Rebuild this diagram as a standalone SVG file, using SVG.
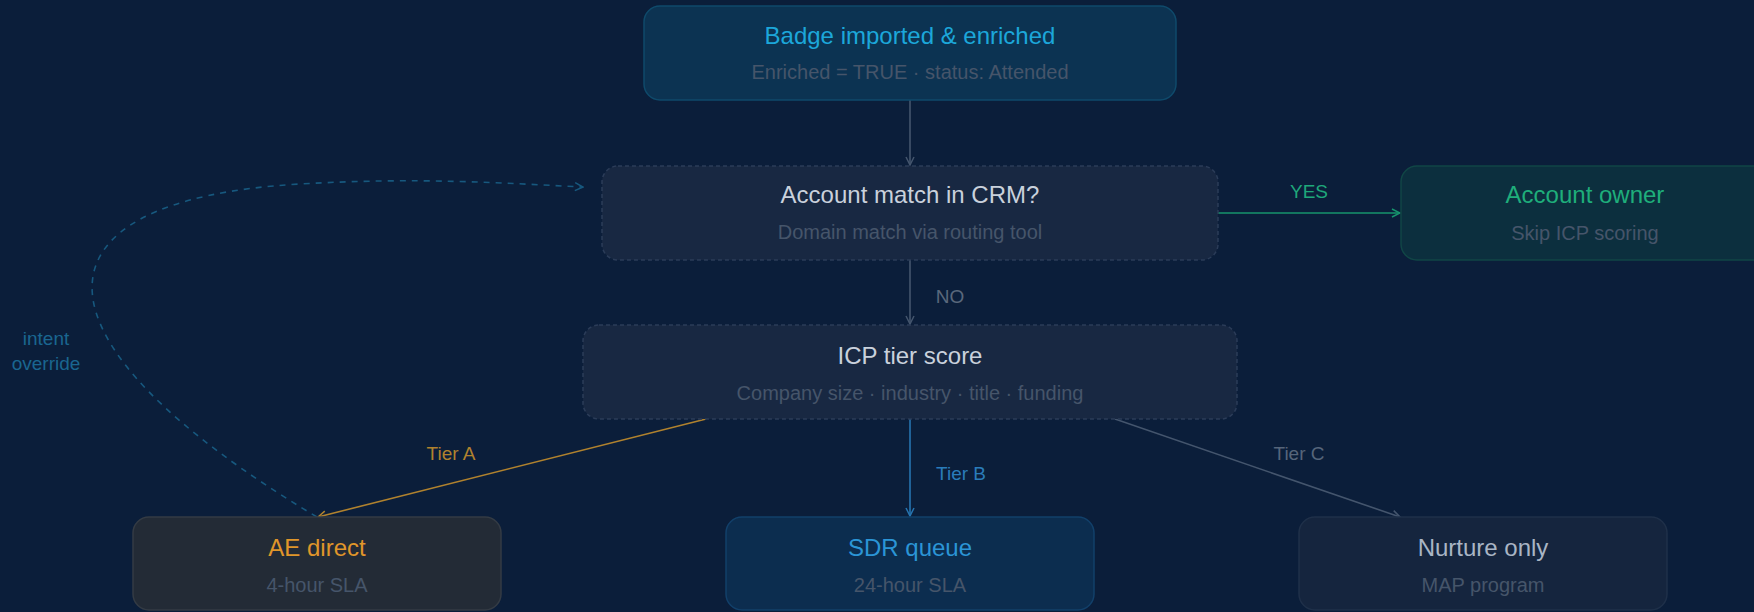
<svg xmlns="http://www.w3.org/2000/svg" width="1754" height="612" viewBox="0 0 1754 612">
<defs>
<style>
.t{font-family:"Liberation Sans",Arial,sans-serif;font-size:24px;text-anchor:middle}
.s{font-family:"Liberation Sans",Arial,sans-serif;font-size:20px;text-anchor:middle;fill:#46556a}
.l{font-family:"Liberation Sans",Arial,sans-serif;font-size:19px;text-anchor:middle}
.c{fill:none;stroke-width:1.6}
</style>
<marker id="aG" viewBox="0 0 10 10" refX="9" refY="5" markerWidth="10" markerHeight="10" markerUnits="userSpaceOnUse" orient="auto"><path d="M1,1 L9,5 L1,9" fill="none" stroke="#44556d" stroke-width="1.5"/></marker>
<marker id="aY" viewBox="0 0 10 10" refX="9" refY="5" markerWidth="10" markerHeight="10" markerUnits="userSpaceOnUse" orient="auto"><path d="M1,1 L9,5 L1,9" fill="none" stroke="#17946d" stroke-width="1.5"/></marker>
<marker id="aA" viewBox="0 0 10 10" refX="9" refY="5" markerWidth="10" markerHeight="10" markerUnits="userSpaceOnUse" orient="auto"><path d="M1,1 L9,5 L1,9" fill="none" stroke="#b0822e" stroke-width="1.5"/></marker>
<marker id="aB" viewBox="0 0 10 10" refX="9" refY="5" markerWidth="10" markerHeight="10" markerUnits="userSpaceOnUse" orient="auto"><path d="M1,1 L9,5 L1,9" fill="none" stroke="#2674b0" stroke-width="1.5"/></marker>
<marker id="aD" viewBox="0 0 10 10" refX="9" refY="5" markerWidth="10" markerHeight="10" markerUnits="userSpaceOnUse" orient="auto"><path d="M1,1 L9,5 L1,9" fill="none" stroke="#17587e" stroke-width="1.5"/></marker>
</defs>
<rect width="1754" height="612" fill="#0b1e3a"/>

<g id="connectors">
<path class="c" d="M910 100 V165" stroke="#44556d" marker-end="url(#aG)"/>
<path class="c" d="M1218 213 H1400" stroke="#17946d" marker-end="url(#aY)"/>
<text class="l" x="1309" y="198" fill="#1fa77a">YES</text>
<path class="c" d="M910 260 V324" stroke="#44556d" marker-end="url(#aG)"/>
<text class="l" x="950" y="303" fill="#5a687c">NO</text>
<path class="c" d="M706 419 L318 517" stroke="#b0822e" marker-end="url(#aA)"/>
<text class="l" x="451" y="460" fill="#b0822e">Tier A</text>
<path class="c" d="M910 419 V516" stroke="#2674b0" marker-end="url(#aB)"/>
<text class="l" x="961" y="480" fill="#2a7cba">Tier B</text>
<path class="c" d="M1115 419 L1400 517" stroke="#44556d" marker-end="url(#aG)"/>
<text class="l" x="1299" y="460" fill="#56657a">Tier C</text>
<path class="c" d="M317 517 C20 340, 20 200, 300 184 C420 177, 500 183, 583 187" stroke="#17587e" stroke-dasharray="6 6" marker-end="url(#aD)"/>
<text class="l" x="46" y="345" fill="#1a6690" font-size="18">intent</text>
<text class="l" x="46" y="370" fill="#1a6690" font-size="18">override</text>
</g>

<g id="badge">
<rect x="644" y="6" width="532" height="94" rx="16" fill="#0c3352" stroke="#0f4a6b" stroke-width="1.5"/>
<text class="t" x="910" y="44" fill="#1ca7da">Badge imported &amp; enriched</text>
<text class="s" x="910" y="79">Enriched = TRUE · status: Attended</text>
</g>

<g id="match">
<rect x="602" y="166" width="616" height="94" rx="16" fill="#182842" stroke="#2b3c58" stroke-width="1.5" stroke-dasharray="4 3"/>
<text class="t" x="910" y="203" fill="#c9d1dc">Account match in CRM?</text>
<text class="s" x="910" y="239">Domain match via routing tool</text>
</g>

<g id="owner">
<rect x="1401" y="166" width="368" height="94" rx="16" fill="#0c2f3e" stroke="#114646" stroke-width="1.5"/>
<text class="t" x="1585" y="203" fill="#1fae7b">Account owner</text>
<text class="s" x="1585" y="240">Skip ICP scoring</text>
</g>

<g id="icp">
<rect x="583" y="325" width="654" height="94" rx="16" fill="#182842" stroke="#2b3c58" stroke-width="1.5" stroke-dasharray="4 3"/>
<text class="t" x="910" y="364" fill="#c9d1dc">ICP tier score</text>
<text class="s" x="910" y="400">Company size · industry · title · funding</text>
</g>

<g id="ae">
<rect x="133" y="517" width="368" height="93" rx="16" fill="#232b36" stroke="#343b44" stroke-width="1.5"/>
<text class="t" x="317" y="556" fill="#e0962a">AE direct</text>
<text class="s" x="317" y="592">4-hour SLA</text>
</g>

<g id="sdr">
<rect x="726" y="517" width="368" height="93" rx="16" fill="#0c2d4f" stroke="#12406a" stroke-width="1.5"/>
<text class="t" x="910" y="556" fill="#2b95d6">SDR queue</text>
<text class="s" x="910" y="592">24-hour SLA</text>
</g>

<g id="nurture">
<rect x="1299" y="517" width="368" height="93" rx="16" fill="#15253e" stroke="#1f3049" stroke-width="1.5"/>
<text class="t" x="1483" y="556" fill="#a9b5c5">Nurture only</text>
<text class="s" x="1483" y="592">MAP program</text>
</g>
</svg>
